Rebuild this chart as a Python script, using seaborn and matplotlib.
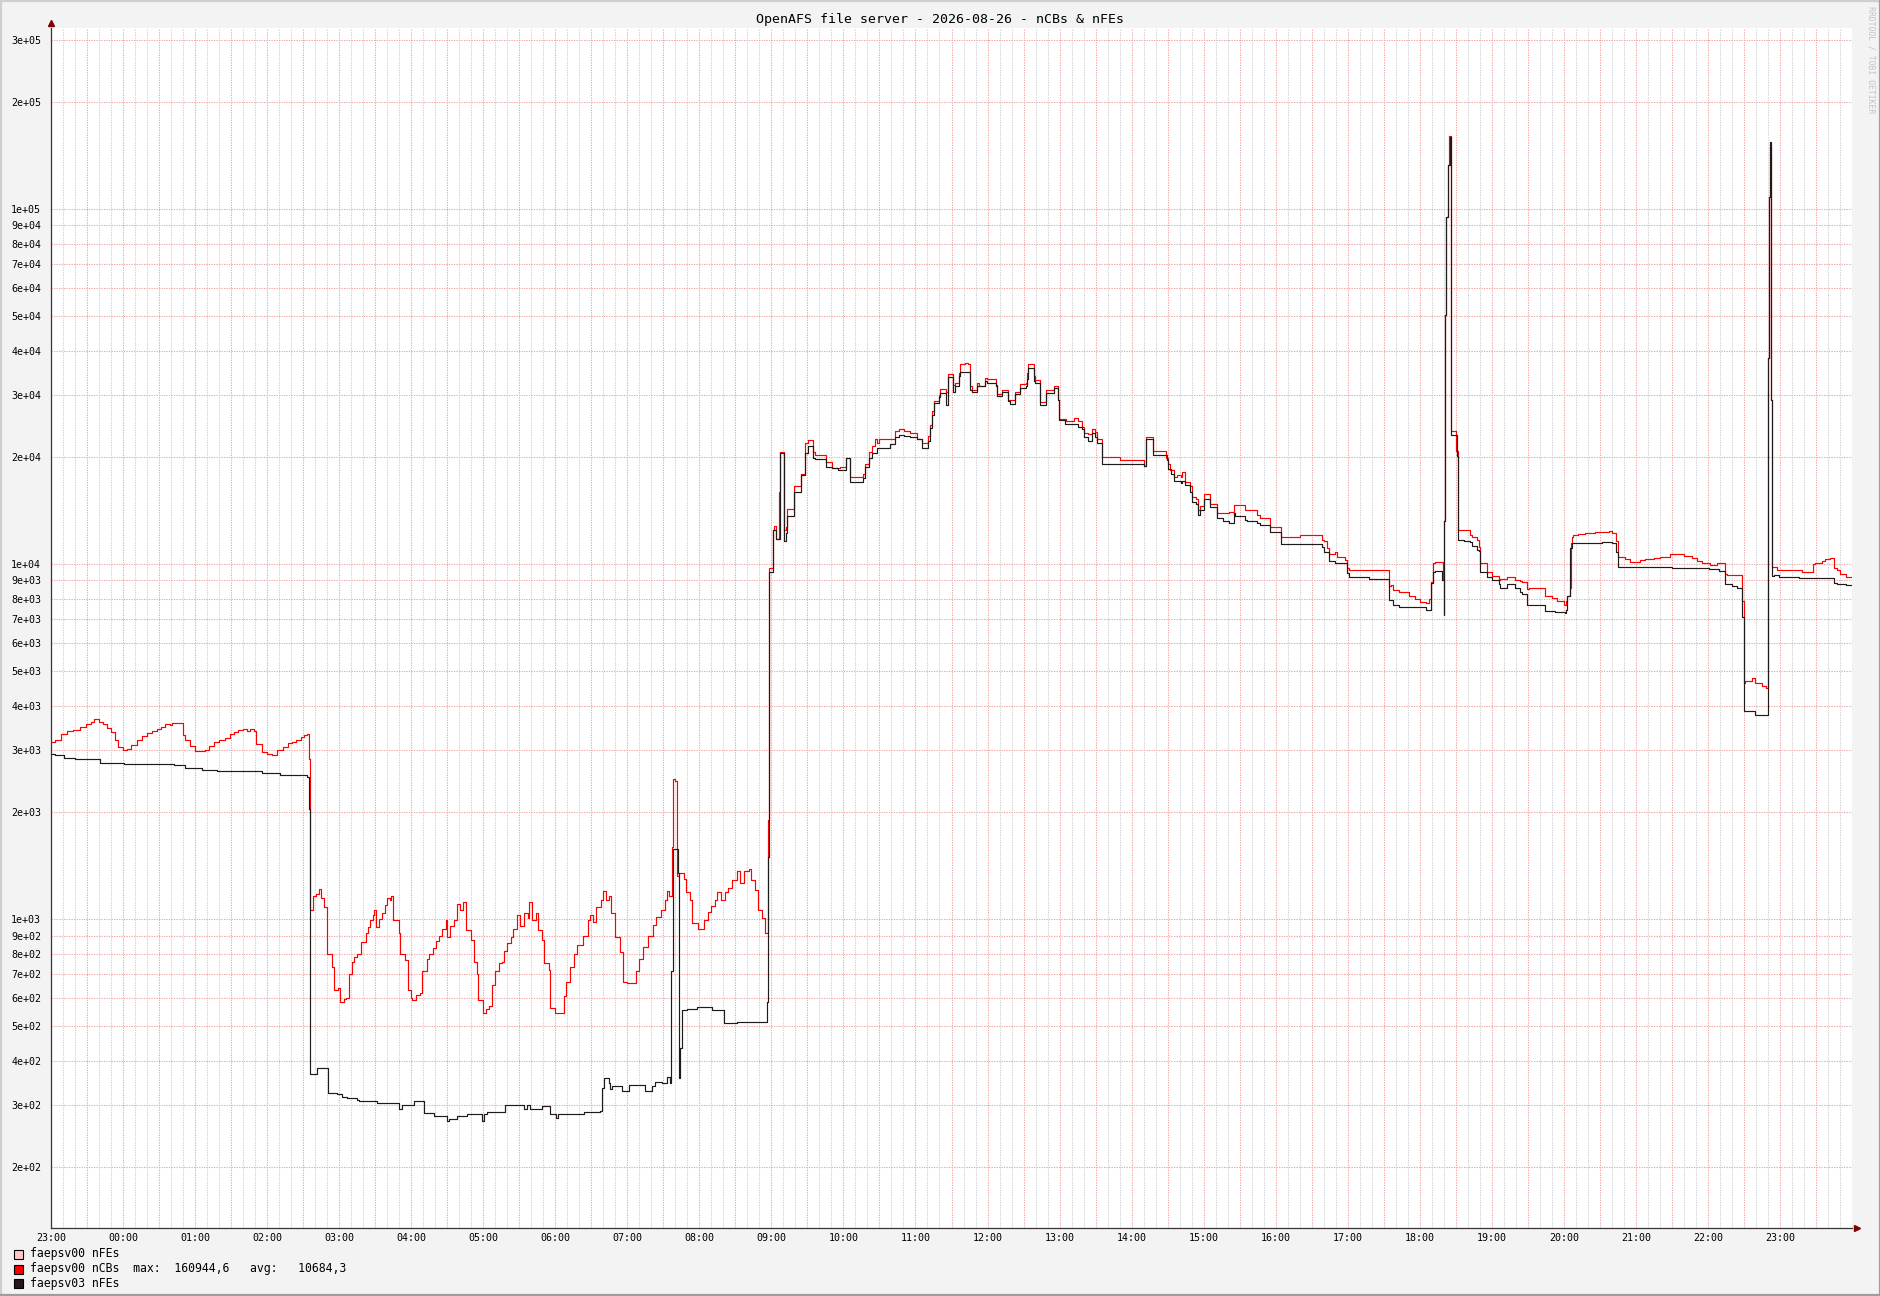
import numpy as np
import pandas as pd
import matplotlib
matplotlib.use('Agg')
import matplotlib.pyplot as plt
import matplotlib.dates as mdates
import matplotlib.ticker as mticker
from matplotlib.patches import Rectangle
from matplotlib.lines import Line2D
import seaborn as sns

# time window: 23:00 on the day before until midnight (25 h)
START = pd.Timestamp('2026-08-25 23:00')
END = pd.Timestamp('2026-08-27 00:00')

TITLE = 'OpenAFS file server - 2026-08-26 - nCBs & nFEs'
SERIES_NAMES = ['faepsv00 nFEs', 'faepsv00 nCBs', 'faepsv03 nFEs']
SERIES_COLORS = ['#FFC8C8', '#FF0000', '#221919']
NCBS_AVG = '10684,3'

# faepsv00 nCBs - minutes after 23:00 and value (step changes)
ncbs_min = [0, 3, 8, 13, 18, 24, 29, 33, 36, 40, 43, 47, 50, 53, 56, 60, 63, 67, 72, 76,
            80, 84, 88, 92, 95, 99, 101, 106, 110, 112, 116, 120, 124, 128, 132, 136, 140, 145, 149, 152,
            156, 160, 163, 166, 169, 171, 176, 180, 184, 188, 193, 197, 201, 204, 208, 211, 213, 215, 216, 218,
            221, 223, 225, 227, 230, 234, 236, 239, 241, 244, 246, 248, 251, 252, 255, 258, 262, 264, 266, 268,
            269, 271, 273, 276, 278, 280, 282, 283, 285, 290, 291, 295, 297, 300, 301, 304, 307, 309, 313, 315,
            318, 321, 323, 326, 329, 330, 332, 336, 338, 341, 343, 346, 350, 352, 355, 356, 360, 362, 365, 367,
            370, 373, 376, 377, 380, 383, 385, 388, 391, 394, 397, 398, 401, 404, 406, 409, 411, 415, 416, 420,
            425, 427, 429, 432, 436, 438, 443, 447, 449, 451, 454, 458, 460, 462, 465, 466, 470, 474, 476, 480,
            484, 487, 490, 493, 497, 501, 504, 508, 511, 513, 515, 517, 518, 520, 521, 521.5, 523, 527, 529, 532,
            534, 539, 544, 547, 550, 553, 555, 558, 561, 564, 567, 571, 574, 577, 581, 583, 586, 589, 592, 594.5,
            596.9, 597.7, 598.3, 601, 601.9, 603.8, 606, 606.9, 610.7, 612.1, 613, 619, 624.9, 628.2, 630.2, 634.3, 636.6, 645.4, 650.4, 657.4,
            662.1, 665.4, 676, 678.2, 681, 683.8, 686, 687.9, 689.9, 699, 702.6, 706, 710.1, 715.7, 721.2, 725.4, 730.4, 731.8, 733.7, 735.1,
            739.3, 740.7, 745.4, 747, 751.2, 752.6, 756.5, 757.3, 761, 764, 765.6, 767, 771.2, 772.6, 777.6, 779.5, 787, 787.8, 792, 797,
            802.6, 807.3, 812, 812.8, 813.7, 818.4, 819.8, 824, 828.6, 835, 838.6, 839.8, 845, 851.7, 855.3, 858.6, 860, 863.6, 866.9, 869.7,
            871, 875.3, 890.6, 910, 912, 917.5, 929, 930, 932, 935.6, 937.8, 941, 942, 944.7, 948.3, 950.3, 953.9, 955, 956.7, 960.5,
            965.5, 971, 980.8, 985.5, 994.7, 1004.4, 1007, 1015, 1024.4, 1040, 1058.5, 1060, 1062.7, 1064, 1069.6, 1071, 1076, 1078, 1079.3, 1080.7,
            1114, 1116, 1118, 1122.4, 1130.7, 1136.3, 1140.4, 1145.4, 1147.4, 1149.3, 1151, 1153, 1158.5, 1159.6, 1160.3, 1161.2, 1162.1, 1163.2, 1164.5, 1166,
            1170.5, 1171.5, 1177, 1182, 1183.5, 1187.6, 1189, 1190.4, 1196, 1200, 1205.7, 1207, 1212.6, 1219.5, 1223.7, 1225, 1229.3, 1230.7, 1244.5, 1250,
            1254, 1259.8, 1262, 1263, 1264.8, 1266, 1266.7, 1268, 1272, 1277.8, 1286, 1290, 1297.2, 1300, 1303.6, 1305, 1311, 1315, 1323.6, 1327.8,
            1334.7, 1340, 1348.6, 1357, 1359.7, 1366.6, 1370.8, 1375, 1382, 1387.5, 1394.4, 1395.8, 1408.3, 1409.7, 1411, 1415.2, 1416.5, 1419.4, 1425, 1428.5,
            1429.7, 1430.5, 1431.4, 1432.5, 1433.3, 1437.4, 1458, 1467.4, 1469.3, 1475, 1477.7, 1482, 1485, 1487.4, 1490, 1495, 1500]
ncbs_val = [3150, 3200, 3330, 3380, 3420, 3480, 3540, 3600, 3670, 3600, 3550, 3450, 3360, 3200, 3050, 3000, 3020, 3100, 3200, 3280,
            3340, 3380, 3430, 3480, 3550, 3520, 3570, 3570, 3300, 3190, 3080, 2980, 2970, 3000, 3080, 3150, 3200, 3250, 3320, 3370,
            3420, 3430, 3380, 3430, 3390, 3120, 2950, 2920, 2910, 3000, 3060, 3130, 3160, 3200, 3270, 3300, 3330, 2830, 1060, 1160,
            1180, 1215, 1150, 1085, 800, 735, 630, 640, 586, 596, 600, 700, 760, 785, 800, 865, 913, 950, 995, 1030,
            1060, 950, 1000, 1040, 1100, 1150, 1130, 1160, 995, 913, 800, 770, 632, 600, 592, 610, 620, 715, 775, 800,
            830, 870, 900, 940, 995, 893, 960, 995, 1105, 1060, 1120, 935, 875, 757, 700, 592, 546, 560, 568, 653,
            715, 755, 760, 815, 855, 893, 940, 1030, 955, 1040, 1006, 1120, 995, 1040, 935, 875, 755, 720, 562, 546,
            546, 607, 667, 735, 800, 845, 900, 995, 1030, 985, 1085, 1135, 1205, 1135, 1165, 1040, 893, 810, 667, 660,
            660, 715, 775, 835, 900, 965, 1015, 1065, 1135, 1200, 1160, 1600, 2490, 2450, 2220, 1320, 1350, 1300, 1190, 1135,
            975, 940, 995, 1050, 1090, 1135, 1195, 1135, 1190, 1225, 1290, 1365, 1265, 1365, 1385, 1290, 1210, 1060, 1005, 913,
            1900, 4860, 9750, 12500, 12800, 11750, 16000, 20750, 12500, 12750, 14300, 16560, 17950, 21900, 22400, 20750, 20300, 19400, 18700, 18800,
            19900, 17600, 18000, 19200, 20750, 21600, 22600, 21900, 22500, 22600, 23700, 24000, 23700, 23400, 22500, 21900, 23000, 24600, 27000, 28800,
            30000, 31100, 30500, 34400, 32000, 32500, 34600, 36600, 37000, 36600, 31700, 30900, 32300, 31800, 33500, 33200, 32000, 30100, 30900, 29000,
            30600, 32100, 32300, 34600, 36600, 34000, 33000, 28600, 30900, 31800, 29100, 25700, 25400, 25800, 25400, 24300, 23500, 23300, 24100, 23600,
            22500, 20100, 19700, 18900, 22900, 20800, 19900, 19100, 18400, 17650, 17850, 17650, 18200, 17100, 16600, 15500, 15300, 14200, 14600, 15800,
            14800, 13900, 14000, 14700, 14200, 13750, 13500, 12750, 11950, 12100, 11700, 11600, 11100, 10700, 10800, 10500, 10450, 10300, 9770, 9640,
            8670, 8750, 8460, 8370, 8150, 7960, 7830, 7780, 8000, 8930, 10060, 10170, 10170, 9000, 13200, 50400, 95200, 133000, 160944.6, 23800,
            20800, 12500, 12500, 12100, 11900, 11700, 11200, 10060, 9520, 9280, 9000, 9100, 9180, 9050, 8950, 8900, 8500, 8550, 8130, 8010,
            7880, 7700, 7900, 8130, 8600, 11510, 11960, 12080, 12170, 12230, 12300, 12350, 12380, 12230, 11650, 10480, 10330, 10150, 10260, 10330,
            10420, 10500, 10670, 10700, 10580, 10420, 10200, 10050, 9980, 10050, 9400, 9340, 7860, 4630, 4680, 4700, 4770, 4630, 4530, 4470,
            38000, 108000, 150000, 29000, 9810, 9640, 9540, 10000, 10100, 10200, 10330, 10400, 9750, 9640, 9400, 9190, 9190]

# faepsv03 nFEs - minutes after 23:00 and value (step changes)
nfes03_min = [0, 3, 10.6, 20.3, 41.1, 60.6, 102.2, 112, 125.8, 138.3, 175.8, 191, 213.2, 214.6, 215.5, 221.6, 230.5, 238.2, 242.4, 246.6,
              254.9, 256.3, 271.6, 289.6, 292.4, 302.1, 310.4, 318.7, 329.9, 331.2, 338.2, 346.5, 359, 360.4, 363.2, 378.4, 393.7, 396.5, 399.3, 409,
              415.9, 420.9, 422, 443.7, 457.5, 459, 460.3, 464.5, 465.9, 467.3, 475.6, 481.1, 495, 500.6, 503.3, 508.9, 513.1, 515.3, 516.7, 517.8,
              521.9, 522.8, 524.2, 525.6, 529.7, 538, 550.5, 560.3, 571.4, 596.3, 597.2, 597.7, 598.3, 601, 603.8, 606.9, 610.7, 612.1, 613, 619,
              624.9, 628.2, 630.2, 634.3, 636.6, 645.4, 650.4, 655.4, 662.1, 665.4, 676, 678.2, 681, 683.8, 687.9, 689.9, 699, 702.6, 706, 710.1,
              715.7, 721.2, 725.4, 730.4, 731.8, 733.7, 735.1, 739.3, 740.7, 745.4, 747, 751.2, 752.6, 756.5, 757.3, 765.6, 767, 771.2, 777.6, 779.5,
              787, 787.8, 792, 797, 799, 802.6, 807.3, 812, 812.8, 813.7, 818.4, 819.8, 824, 828.6, 835, 838.6, 839.8, 844.8, 855.3, 858.6,
              860, 863.6, 866.9, 869.7, 871, 875.3, 910, 912, 917.5, 929.4, 930.2, 933, 935.6, 941, 942, 944.7, 948.3, 950.3, 953.9, 955,
              956.7, 960.5, 965.5, 971, 976, 980.8, 985.5, 986.4, 994.7, 996, 1004.4, 1007, 1015, 1024.4, 1058.5, 1060, 1064, 1069.6, 1078, 1079.3,
              1080.7, 1097.4, 1114, 1118, 1122.4, 1145.4, 1149.3, 1151, 1153, 1158.5, 1159.9, 1160.3, 1161.2, 1162.1, 1163.2, 1164.9, 1166, 1171, 1171.5, 1177,
              1182, 1183.5, 1187.6, 1189, 1190.4, 1196, 1200, 1205.7, 1207, 1212.6, 1219.5, 1223.7, 1225, 1229.3, 1244.5, 1253, 1260.6, 1262, 1263, 1265.3,
              1266.7, 1268, 1291.7, 1300, 1303.6, 1305, 1350, 1375, 1380.5, 1389, 1394.4, 1400, 1404, 1408.3, 1409.7, 1419.4, 1429.7, 1430.5, 1431.4, 1432.5,
              1433.3, 1434.7, 1438.8, 1455.5, 1485, 1487.4, 1495, 1500]
nfes03_val = [2930, 2910, 2850, 2830, 2750, 2740, 2720, 2670, 2640, 2620, 2590, 2550, 2520, 2050, 367, 380, 324, 322, 316, 313,
              310, 307, 303, 292, 299, 307, 284, 279, 271, 274, 280, 283, 270, 283, 286, 300, 292, 299, 292, 297,
              282, 276, 283, 286, 289, 335, 357, 345, 333, 340, 329, 342, 328, 340, 349, 345, 360, 345, 715, 1575,
              1350, 357, 435, 555, 560, 565, 555, 510, 515, 585, 1500, 4480, 9500, 12450, 11750, 20550, 11620, 12240, 13700, 15970,
              17800, 20550, 21600, 19900, 19800, 18800, 18700, 18400, 19900, 17050, 17500, 18800, 19900, 20550, 21200, 21300, 21750, 22900, 23100, 23000,
              22900, 22500, 21300, 22200, 24150, 26400, 28400, 29500, 30300, 28100, 33700, 30600, 31700, 33800, 34900, 30900, 30600, 31700, 32800, 32500,
              31700, 29700, 30600, 28800, 28300, 30100, 31300, 31700, 33300, 35600, 32900, 32400, 28100, 30300, 31400, 29100, 25500, 24800, 24300, 24000,
              22900, 22300, 23400, 22800, 21900, 19200, 18900, 22500, 20300, 19700, 18500, 17900, 17200, 16900, 17200, 16700, 16000, 15000, 14800, 13800,
              14200, 15300, 14500, 13500, 13200, 13100, 13980, 13700, 13300, 13200, 13100, 12900, 12300, 11400, 11215, 10830, 10240, 10100, 10050, 9460,
              9230, 9070, 7950, 7660, 7600, 7450, 8880, 9530, 9600, 9020, 7200, 13200, 50400, 95200, 133000, 160000, 23100, 20200, 11700, 11650,
              11580, 11240, 10990, 10900, 9530, 9200, 9000, 8770, 8600, 8770, 8570, 8370, 8250, 7680, 7390, 7330, 7280, 7450, 8130, 11080,
              11460, 11510, 11590, 11460, 10850, 9850, 9790, 9750, 9700, 9600, 8800, 8700, 8600, 7100, 3850, 3760, 38000, 108000, 155000, 29000,
              9270, 9330, 9230, 9140, 8830, 8800, 8740, 8740]

ncbs = pd.DataFrame({'time': START + pd.to_timedelta(np.array(ncbs_min, dtype=float), unit='min'),
                     'value': ncbs_val})
nfes03 = pd.DataFrame({'time': START + pd.to_timedelta(np.array(nfes03_min, dtype=float), unit='min'),
                       'value': nfes03_val})

sns.set_style('white')
plt.rcParams['font.family'] = ['DejaVu Sans Mono']

W, H = 1881, 1296
fig = plt.figure(figsize=(W / 100, H / 100), dpi=100)
fig.patch.set_facecolor('#F3F3F3')

# plot area in pixels: left 51, right 1852, top 28, bottom 1228
ax = fig.add_axes([51 / W, 1 - 1228 / H, (1852 - 51) / W, (1228 - 28) / H])
ax.set_facecolor('white')

sns.lineplot(data=ncbs, x='time', y='value', drawstyle='steps-post', color=SERIES_COLORS[1],
             lw=0.85, estimator=None, sort=False, ax=ax, zorder=3)
sns.lineplot(data=nfes03, x='time', y='value', drawstyle='steps-post', color=SERIES_COLORS[2],
             lw=0.85, estimator=None, sort=False, ax=ax, zorder=4)

ax.set_yscale('log')
ax.set_ylim(135, 324000)
ax.set_xlim(START, END)
ax.set_xlabel('')
ax.set_ylabel('')

# y axis: grid line and label at every 1..9 x 10^n
ax.yaxis.set_major_locator(mticker.LogLocator(base=10, subs=range(1, 10), numticks=50))
ax.yaxis.set_major_formatter(mticker.FuncFormatter(lambda v, p: f'{v:.0e}'))
ax.yaxis.set_minor_locator(mticker.NullLocator())

# x axis: red grid every 30 min (label each hour), grey grid every 10 min
ax.xaxis.set_major_locator(mdates.MinuteLocator(byminute=[0, 30]))
ax.xaxis.set_minor_locator(mdates.MinuteLocator(byminute=[10, 20, 40, 50]))
end_num = mdates.date2num(END)


def hour_label(x, pos):
    if int(round(x * 1440)) % 60 != 0 or x >= end_num - 1e-6:
        return ''
    return mdates.num2date(x).strftime('%H:%M')


ax.xaxis.set_major_formatter(mticker.FuncFormatter(hour_label))

dots = (0, (1.2, 1.2))
ax.grid(True, which='major', axis='both', color='#F0A3A3', linestyle=dots, lw=0.75, zorder=1)
ax.grid(True, which='minor', axis='x', color='#CFCFCF', linestyle=dots, lw=0.75, zorder=1)

for side in ['top', 'right']:
    ax.spines[side].set_visible(False)
for side in ['left', 'bottom']:
    ax.spines[side].set_color('#3A3434')
    ax.spines[side].set_linewidth(0.9)

ax.tick_params(axis='both', which='major', labelsize=7.2, colors='#3A3434', labelcolor='black',
               length=2.5, width=0.8, direction='out', pad=1)
ax.tick_params(axis='y', pad=4.5)
ax.tick_params(axis='x', which='minor', length=0)

# axis arrows
ax.plot([0], [1.004], marker='^', ms=4.5, color='#7F0000', transform=ax.transAxes, clip_on=False, zorder=6)
ax.plot([1.003], [0], marker='>', ms=4.5, color='#7F0000', transform=ax.transAxes, clip_on=False, zorder=6)

# title and watermark
fig.text(0.5, 1 - 19 / H, TITLE, ha='center', va='center', fontsize=9.5, color='black')
fig.text(1871 / W, 1 - 6 / H, 'RRDTOOL / TOBI OETIKER', rotation=270, ha='center', va='top',
         fontsize=5.9, color='#C4C4C4')

# legend rows
ncbs_max = f'{max(ncbs_val):.1f}'.replace('.', ',')
legend_texts = [SERIES_NAMES[0],
                f'{SERIES_NAMES[1]}  max:  {ncbs_max}   avg:   {NCBS_AVG}',
                SERIES_NAMES[2]]
row_y = [1254, 1268.5, 1283]
for text, color, y in zip(legend_texts, SERIES_COLORS, row_y):
    fig.patches.append(Rectangle((14 / W, 1 - (y + 5) / H), 9 / W, 9 / H, transform=fig.transFigure,
                                 facecolor=color, edgecolor='black', lw=0.8))
    fig.text(30 / W, 1 - y / H, text, ha='left', va='center', fontsize=8.3, color='black')

# 3d-style frame around the image
fig.add_artist(Line2D([0, 1], [1 - 1 / H, 1 - 1 / H], transform=fig.transFigure, color='#CFCFCF', lw=1.6))
fig.add_artist(Line2D([1 / W, 1 / W], [0, 1], transform=fig.transFigure, color='#CFCFCF', lw=1.6))
fig.add_artist(Line2D([0, 1], [1 / H, 1 / H], transform=fig.transFigure, color='#9E9E9E', lw=1.6))
fig.add_artist(Line2D([1 - 1 / W, 1 - 1 / W], [0, 1], transform=fig.transFigure, color='#9E9E9E', lw=1.6))

fig.savefig('out.png', dpi=100, facecolor=fig.get_facecolor())
